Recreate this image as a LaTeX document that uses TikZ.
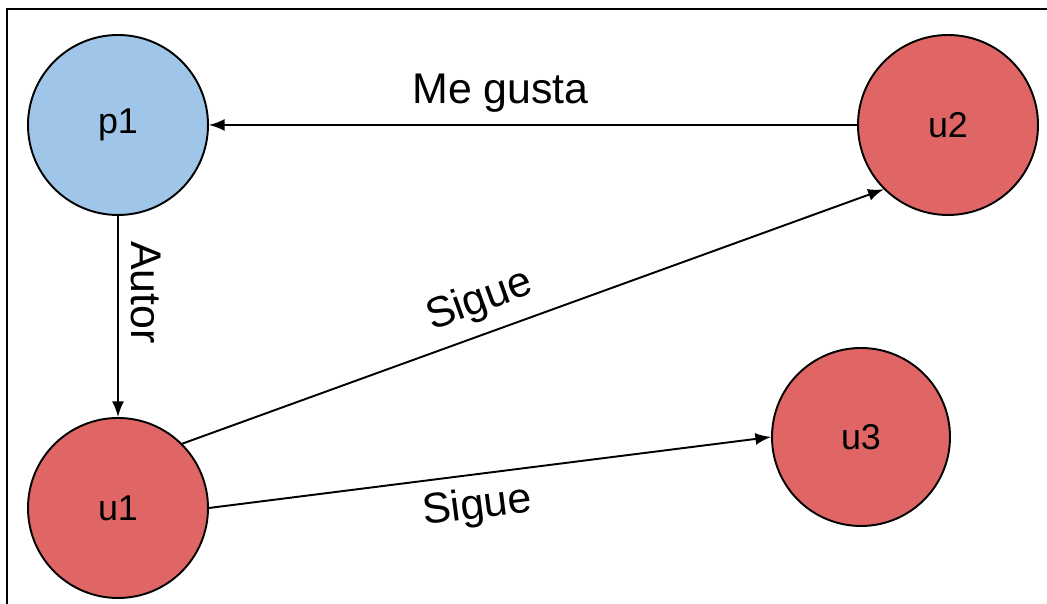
\documentclass[tikz,border=0pt]{standalone}
\usepackage{fontspec}
\setmainfont{Liberation Sans}
\usetikzlibrary{arrows}

\definecolor{postblue}{HTML}{9FC5E8}
\definecolor{userred}{HTML}{E06666}

\begin{document}
\begin{tikzpicture}[
  vertex/.style={circle, draw, line width=0.55pt, minimum size=1.8cm, inner sep=0pt,
    font=\fontsize{10.2}{12}\selectfont},
  post/.style={vertex, fill=postblue},
  user/.style={vertex, fill=userred},
  rel/.style={->, >=latex, line width=0.55pt},
  tag/.style={font=\fontsize{12.2}{14}\selectfont}
]
  \useasboundingbox (0,0) rectangle (10.47,6.04);
  \draw [line width=0.5pt] (0.07,0) -- (0.07,5.95) -- (10.47,5.95);

  \node [post] (p1) at (1.18,4.79) {p1};
  \node [user] (u2) at (9.48,4.79) {u2};
  \node [user] (u1) at (1.18,0.96) {u1};
  \node [user, minimum size=1.78cm] (u3) at (8.61,1.67) {u3};

  \draw [rel] (u2) -- node [tag, pos=0.55, above] {Me gusta} (p1);
  \draw [rel] (p1) -- node [tag, pos=0.38, sloped, above] {Autor} (u1);
  \draw [rel] (u1.45) -- node [tag, pos=0.44, sloped, above] {Sigue} (u2.225);
  \draw [rel] (u1.east) -- node [tag, pos=0.47, sloped, below] {Sigue} (u3.west);
\end{tikzpicture}
\end{document}
